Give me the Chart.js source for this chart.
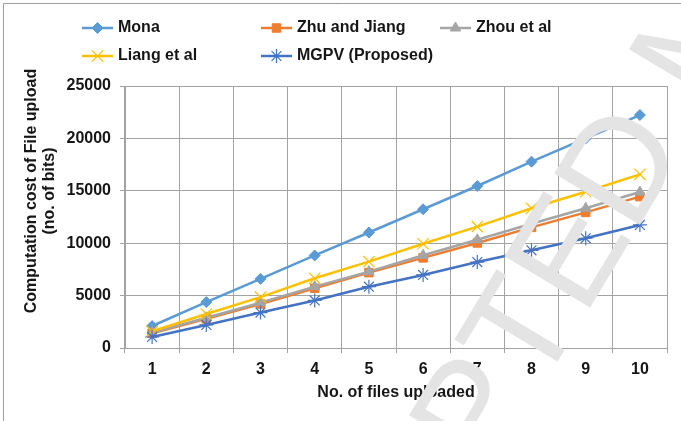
<!DOCTYPE html>
<html>
<head>
<meta charset="utf-8">
<script src="https://cdn.jsdelivr.net/npm/chart.js@4.4.1/dist/chart.umd.min.js"></script>
<style>
  html, body { margin: 0; padding: 0; background: #ffffff; }
  #wrap { position: relative; width: 681px; height: 421px; }
</style>
</head>
<body>
<div id="wrap"><canvas id="c" width="681" height="421"></canvas></div>
<script>
// Number of files uploaded (x categories)
const fileCounts = ['1', '2', '3', '4', '5', '6', '7', '8', '9', '10'];

// Computation cost of file upload (no. of bits) per scheme
const monaCost   = [2100, 4380, 6600, 8830, 11020, 13240, 15460, 17780, 20000, 22230];
const zhuCost    = [1400, 2780, 4200, 5700, 7190, 8600, 10020, 11510, 12940, 14440];
const zhouCost   = [1480, 2880, 4330, 5860, 7290, 8850, 10330, 11860, 13330, 14880];
const liangCost  = [1600, 3240, 4850, 6650, 8240, 9950, 11580, 13330, 14910, 16570];
const mgpvCost   = [1050, 2200, 3380, 4540, 5850, 6970, 8200, 9320, 10470, 11740];

// Value axis
const yMin = 0;
const yMax = 25000;
const yStep = 5000;

const FONT = '"Liberation Sans", Arial, Helvetica, sans-serif';
const TEXT = '#161616';
const GRID = '#a3a3a3';

function series(label, data, color, style, radius, bw, order) {
  return {
    label, data,
    borderColor: color,
    backgroundColor: color,
    borderWidth: 2.5,
    tension: 0,
    pointStyle: style,
    pointRadius: radius,
    pointHoverRadius: radius,
    pointBorderWidth: bw,
    pointBackgroundColor: color,
    pointBorderColor: color,
    order
  };
}

const datasets = [
  series('Mona', monaCost, '#5B9BD5', 'rectRot', 5.5, 1, 5),
  series('Zhu and Jiang', zhuCost, '#ED7D31', 'rect', 6, 1, 4),
  series('Zhou et al', zhouCost, '#A5A5A5', 'triangle', 6, 1, 3),
  series('Liang et al', liangCost, '#FFC000', 'crossRot', 8, 1.2, 2),
  series('MGPV (Proposed)', mgpvCost, '#4472C4', 'star', 7, 1.2, 1)
];

// Legend grid: two rows, aligned columns
const legendSlots = [
  { x0: 82,  x1: 113, tx: 118, y: 28 },
  { x0: 261, x1: 292, tx: 297, y: 28 },
  { x0: 440, x1: 471, tx: 476, y: 28 },
  { x0: 82,  x1: 113, tx: 118, y: 56 },
  { x0: 261, x1: 292, tx: 297, y: 56 }
];

const decorations = {
  id: 'decorations',
  beforeDraw(chart) {
    const ctx = chart.ctx;
    ctx.save();
    ctx.strokeStyle = '#9d9d9d';
    ctx.lineWidth = 1;
    ctx.beginPath();
    ctx.moveTo(3.5, 421);
    ctx.lineTo(3.5, 3.5);
    ctx.lineTo(681, 3.5);
    ctx.stroke();
    ctx.restore();
  },
  afterDraw(chart) {
    const ctx = chart.ctx;

    // Value axis title (two lines, rotated)
    ctx.save();
    ctx.fillStyle = TEXT;
    ctx.font = 'bold 16px ' + FONT;
    ctx.textAlign = 'center';
    ctx.textBaseline = 'middle';
    ctx.translate(32, 191);
    ctx.rotate(-Math.PI / 2);
    ctx.fillText('Computation cost of File upload', 0, 0);
    ctx.fillText('(no. of bits)', 0, 18);
    ctx.restore();

    // Legend
    chart.data.datasets.forEach((ds, i) => {
      const s = legendSlots[i];
      ctx.save();
      ctx.strokeStyle = ds.borderColor;
      ctx.lineWidth = ds.borderWidth;
      ctx.beginPath();
      ctx.moveTo(s.x0, s.y);
      ctx.lineTo(s.x1, s.y);
      ctx.stroke();
      ctx.fillStyle = ds.pointBackgroundColor;
      ctx.strokeStyle = ds.pointBorderColor;
      ctx.lineWidth = ds.pointBorderWidth;
      Chart.helpers.drawPoint(ctx, {
        pointStyle: ds.pointStyle,
        radius: ds.pointRadius,
        rotation: 0,
        borderWidth: ds.pointBorderWidth
      }, (s.x0 + s.x1) / 2, s.y);
      ctx.fillStyle = TEXT;
      ctx.font = 'bold 16px ' + FONT;
      ctx.textAlign = 'left';
      ctx.textBaseline = 'middle';
      ctx.fillText(ds.label, s.tx, s.y);
      ctx.restore();
    });

    // Diagonal stamp across the chart
    ctx.save();
    ctx.fillStyle = '#e4e4e4';
    ctx.font = '145px ' + FONT;
    ctx.textAlign = 'left';
    ctx.textBaseline = 'alphabetic';
    ctx.translate(281, 822);
    ctx.rotate(-59 * Math.PI / 180);
    ctx.fillText('ACCEPTED MANUSCRIPT', 0, 0);
    ctx.restore();
  }
};

new Chart(document.getElementById('c'), {
  type: 'line',
  data: { labels: fileCounts, datasets },
  options: {
    responsive: false,
    animation: false,
    events: [],
    layout: { padding: { top: 86, left: 67, right: 14, bottom: 0 } },
    plugins: {
      legend: { display: false },
      tooltip: { enabled: false }
    },
    scales: {
      x: {
        type: 'category',
        offset: true,
        grid: { color: GRID, lineWidth: 1, tickLength: 5, offset: true, drawTicks: true },
        border: { color: GRID, width: 1 },
        ticks: {
          color: TEXT,
          padding: 7,
          maxRotation: 0,
          font: { family: FONT, size: 16, weight: 'bold' }
        },
        title: {
          display: true,
          text: 'No. of files uploaded',
          color: TEXT,
          font: { family: FONT, size: 16, weight: 'bold' },
          padding: { top: 0, bottom: 19 }
        },
        afterFit(scale) { scale.height = 73; }
      },
      y: {
        min: yMin,
        max: yMax,
        grid: { color: GRID, lineWidth: 1, tickLength: 5, drawTicks: true },
        border: { color: GRID, width: 1 },
        ticks: {
          stepSize: yStep,
          color: TEXT,
          padding: 9,
          font: { family: FONT, size: 16, weight: 'bold' },
          callback: (v) => String(v)
        },
        afterFit(scale) { scale.width = 58; }
      }
    }
  },
  plugins: [decorations]
});
</script>
</body>
</html>
